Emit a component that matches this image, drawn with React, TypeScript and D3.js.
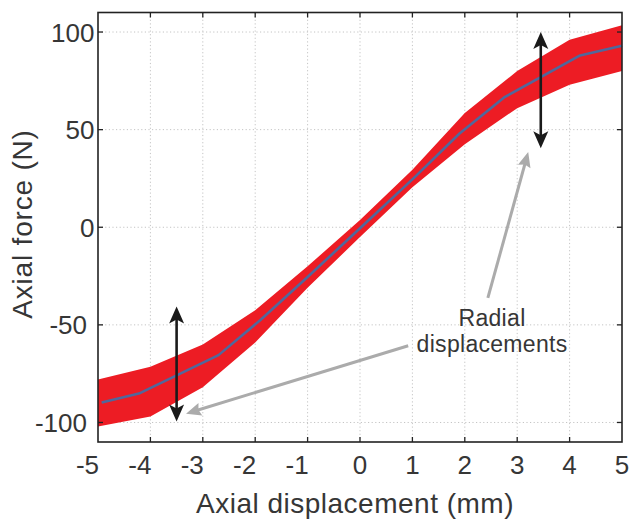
import React from "react";
import * as d3 from "d3";

// ---- data ----
const bandX = [-5, -4, -3, -2, -1, 0, 1, 2, 3, 4, 5];
const bandUpper = [-78, -71.5, -60, -42.5, -20, 3.7, 29.5, 58.5, 80, 96, 103.5];
const bandLower = [-102, -97, -82, -59, -31, -5, 20.5, 42.5, 61, 73, 80];

const meanX = [-4.93, -4.2, -2.7, -1.9, -1, 0, 1, 1.9, 2.75, 4.2, 5];
const meanY = [-89.8, -85, -65.5, -47.5, -25.5, -0.5, 24.5, 48, 66.5, 88, 93];

const xTicks = [-5, -4, -3, -2, -1, 0, 1, 2, 3, 4, 5];
const yTicks = [-100, -50, 0, 50, 100];

// double arrows: [x, yTop, yBottom]
const rangeArrows = [
  [3.45, 100, 40.5],
  [-3.5, -40.6, -99.5],
];
// gray pointer arrows: [tailX, tailY, tipX, tipY]
const pointerArrows = [
  [2.44, -36.2, 3.21, 38.5],
  [0.92, -60.7, -3.32, -95.5],
];
const noteLines = ["Radial", "displacements"];
const notePos = [2.52, -50.5];

const W = 629, H = 522;
const M = { left: 98, right: 7, top: 12.5, bottom: 80 };

export default function App() {
  const x = d3.scaleLinear().domain([-5, 5]).range([M.left, W - M.right]);
  const y = d3.scaleLinear().domain([-110, 110]).range([H - M.bottom, M.top]);

  const band = bandX.map((v, i) => ({ x: v, lo: bandLower[i], hi: bandUpper[i] }));
  const area = d3.area<any>().x((d) => x(d.x)).y0((d) => y(d.lo)).y1((d) => y(d.hi));
  const line = d3.line<number>().x((d, i) => x(meanX[i])).y((d) => y(d));

  const x0 = x(-5), x1 = x(5), y0 = y(-110), y1 = y(110);
  const tickLen = 5;
  const textColor = "#363636";
  const font = "Liberation Sans, Arial, Helvetica, sans-serif";

  const headPath = (tx: number, ty: number, ux: number, uy: number, len: number, wid: number, notch: number) => {
    const px = -uy, py = ux;
    const bx = tx - ux * len, by = ty - uy * len;
    const nx = tx - ux * (len - notch), ny = ty - uy * (len - notch);
    return `M${tx},${ty} L${bx + px * wid / 2},${by + py * wid / 2} L${nx},${ny} L${bx - px * wid / 2},${by - py * wid / 2} Z`;
  };

  return (
    <svg width={W} height={H} style={{ position: "absolute", left: 0, top: 0, background: "#fff" }}>
      <rect x={0} y={0} width={W} height={H} fill="#fff" />
      {xTicks.slice(1, -1).map((t) => (
        <line key={"gx" + t} x1={x(t)} x2={x(t)} y1={y1} y2={y0} stroke="#c4c4c4" strokeWidth={1} strokeDasharray="1.2,2.4" />
      ))}
      {yTicks.map((t) => (
        <line key={"gy" + t} x1={x0} x2={x1} y1={y(t)} y2={y(t)} stroke="#c4c4c4" strokeWidth={1} strokeDasharray="1.2,2.4" />
      ))}
      <path d={area(band) || ""} fill="#ED1C24" />
      <path d={line(meanY) || ""} fill="none" stroke="#50689C" strokeWidth={2.6} strokeLinejoin="round" />
      <rect x={x0} y={y1} width={x1 - x0} height={y0 - y1} fill="none" stroke="#222" strokeWidth={1.6} />
      {xTicks.slice(1, -1).map((t) => (
        <g key={"tx" + t}>
          <line x1={x(t)} x2={x(t)} y1={y0} y2={y0 - tickLen} stroke="#222" strokeWidth={1.3} />
          <line x1={x(t)} x2={x(t)} y1={y1} y2={y1 + tickLen} stroke="#222" strokeWidth={1.3} />
        </g>
      ))}
      {yTicks.map((t) => (
        <g key={"ty" + t}>
          <line x1={x0} x2={x0 + tickLen} y1={y(t)} y2={y(t)} stroke="#222" strokeWidth={1.3} />
          <line x1={x1} x2={x1 - tickLen} y1={y(t)} y2={y(t)} stroke="#222" strokeWidth={1.3} />
        </g>
      ))}
      {xTicks.map((t) => (
        <text key={"lx" + t} x={t < 0 ? x(t) + 1 : x(t)} y={474} textAnchor={t < 0 ? "end" : "middle"}
          fontFamily={font} fontSize={26} fill={textColor}>{t}</text>
      ))}
      {yTicks.map((t) => (
        <text key={"ly" + t} x={t < 0 ? 87 : 94.5} y={y(t) + 9.5} textAnchor="end"
          fontFamily={font} fontSize={26} fill={textColor}>{t}</text>
      ))}
      <text x={355} y={513} textAnchor="middle" fontFamily={font} fontSize={28} letterSpacing={0.5} fill={textColor}>
        Axial displacement (mm)
      </text>
      <text transform={`translate(32,224) rotate(-90)`} textAnchor="middle" fontFamily={font} fontSize={28} letterSpacing={0.8} fill={textColor}>
        Axial force (N)
      </text>
      {pointerArrows.map(([ax, ay, bx, by], i) => {
        const tx = x(bx), ty = y(by), sx = x(ax), sy = y(ay);
        const dx = tx - sx, dy = ty - sy, L = Math.hypot(dx, dy);
        const ux = dx / L, uy = dy / L;
        return (
          <g key={"pa" + i}>
            <line x1={sx} y1={sy} x2={tx - ux * 10} y2={ty - uy * 10} stroke="#ABABAB" strokeWidth={3} />
            <path d={headPath(tx, ty, ux, uy, 15, 13, 2)} fill="#ABABAB" />
          </g>
        );
      })}
      {rangeArrows.map(([ax, top, bot], i) => {
        const cx = x(ax), ty = y(top), by = y(bot);
        return (
          <g key={"ra" + i}>
            <line x1={cx} y1={ty + 10} x2={cx} y2={by - 10} stroke="#1a1a1a" strokeWidth={2.6} />
            <path d={headPath(cx, ty, 0, -1, 17, 15, 4)} fill="#1a1a1a" />
            <path d={headPath(cx, by, 0, 1, 17, 15, 4)} fill="#1a1a1a" />
          </g>
        );
      })}
      {noteLines.map((s, i) => (
        <text key={"n" + i} x={x(notePos[0])} y={y(notePos[1]) + i * 26} textAnchor="middle"
          fontFamily={font} fontSize={23} letterSpacing={0.3} fill={textColor}>{s}</text>
      ))}
    </svg>
  );
}
